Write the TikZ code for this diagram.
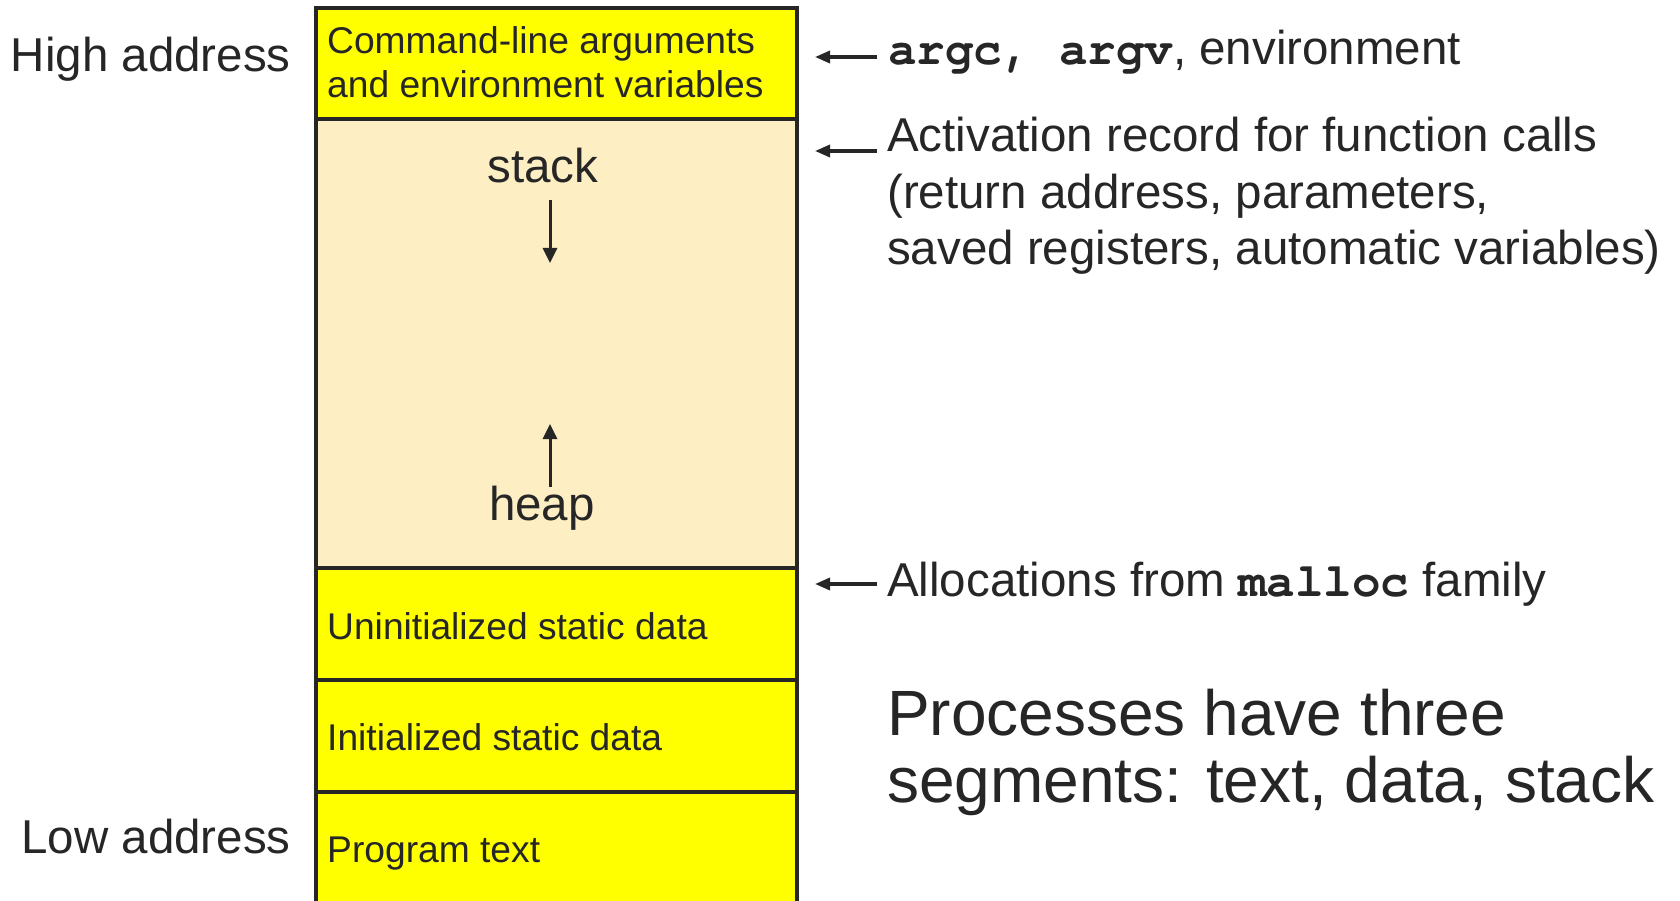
\documentclass[tikz,border=0pt]{standalone}
\usepackage{fontspec}
\setmainfont{Liberation Sans}
\setmonofont{TeX Gyre Cursor}
\usetikzlibrary{arrows.meta}
\definecolor{ink}{HTML}{262626}
\definecolor{segfill}{HTML}{FFFF00}
\definecolor{dynfill}{HTML}{FEEEC3}
\begin{document}
\begin{tikzpicture}[x=1pt,y=-1pt,
  edge/.style={draw=ink,line width=3.5pt},
  big/.style={font=\fontsize{47.5}{56}\selectfont,text=ink,inner sep=0pt},
  boxtxt/.style={font=\fontsize{37.2}{44}\selectfont,text=ink,inner sep=0pt,anchor=base west},
  huge/.style={font=\fontsize{64}{67}\selectfont,text=ink,inner sep=0pt,anchor=base west},
  harr/.style={draw=ink,line width=3.3pt,-{Triangle[length=15pt,width=12pt]}},
  varr/.style={draw=ink,line width=3pt,-{Triangle[length=15pt,width=14pt]}}]
\useasboundingbox (0,0) rectangle (1680,901);
\fill[white] (0,0) rectangle (1680,901);
% segment fills
\fill[segfill] (316,8) rectangle (797,119);
\fill[dynfill] (316,119) rectangle (797,568);
\fill[segfill] (316,568) rectangle (797,915);
% borders
\draw[edge] (316,915) -- (316,8) -- (797,8) -- (797,915);
\draw[edge] (316,119) -- (797,119);
\draw[edge] (316,568) -- (797,568);
\draw[edge] (316,680) -- (797,680);
\draw[edge] (316,792) -- (797,792);
% texts in segments
\node[boxtxt] (cmd1) at (327,54) {Command-line arguments};
\node[boxtxt] (cmd2) at (327,98) {and environment variables};
\node[boxtxt] (bss) at (327,639) {Uninitialized static data};
\node[boxtxt] (data) at (327,750) {Initialized static data};
\node[boxtxt] (text) at (327,862) {Program text};
% stack and heap
\node[big,anchor=base] (stack) at (543,183) {stack};
\node[big,anchor=base] (heap) at (542,520) {heap};
\coordinate (sa) at (550,200);
\coordinate (sb) at (550,263);
\coordinate (ha) at (550,487);
\coordinate (hb) at (550,424);
\draw[varr] (sa) -- (sb);
\draw[varr] (ha) -- (hb);
% left labels
\node[big,anchor=base east] (high) at (291,72) {High address};
\node[big,anchor=base east] (low) at (291,853) {Low address};
% right labels
\node[big,anchor=base west] (args) at (888,65) {\texttt{\bfseries argc, argv}, environment};
\node[big,anchor=base west] (act1) at (887,152) {Activation record for function calls};
\node[big,anchor=base west] (act2) at (887,209) {(return address, parameters,};
\node[big,anchor=base west] (act3) at (887,265) {saved registers, automatic variables)};
\node[big,anchor=base west] (mal) at (887,596) {Allocations from \texttt{\bfseries malloc} family};
\node[huge] (proc1) at (887,735) {Processes have three};
\node[huge] (proc2) at (887,802) {segments: text, data, stack};
% arrows on the right
\coordinate (a1s) at (877,57);
\coordinate (a1e) at (815,57);
\coordinate (a2s) at (877,151);
\coordinate (a2e) at (815,151);
\coordinate (a3s) at (877,584);
\coordinate (a3e) at (815,584);
\draw[harr] (a1s) -- (a1e);
\draw[harr] (a2s) -- (a2e);
\draw[harr] (a3s) -- (a3e);
\end{tikzpicture}
\end{document}
